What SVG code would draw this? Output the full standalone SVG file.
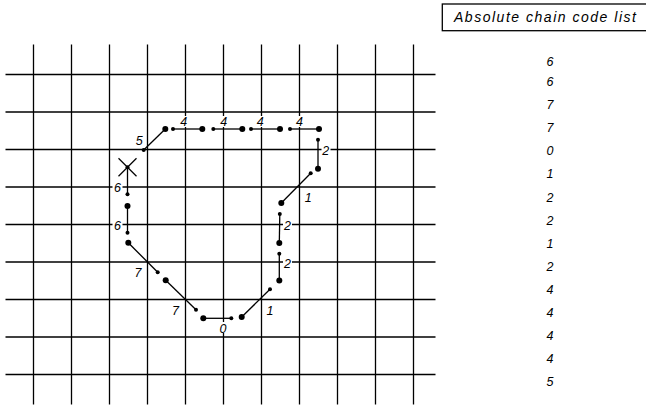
<svg xmlns="http://www.w3.org/2000/svg" width="646" height="406" viewBox="0 0 646 406">
<style>
.grid line{stroke:#000;stroke-width:1.3}
.seg{stroke:#000;stroke-width:1.3;fill:none}
.big{fill:#000}
.sm{fill:#000}
.lbl{font-family:"Liberation Sans",Arial,sans-serif;font-style:italic;font-size:12.5px;fill:#000;text-anchor:middle}
.list{font-family:"Liberation Sans",Arial,sans-serif;font-style:italic;font-size:12.5px;fill:#000;text-anchor:middle}
.title{font-family:"Liberation Sans",Arial,sans-serif;font-style:italic;font-size:14px;fill:#000}
</style>
<rect width="646" height="406" fill="#fff"/>
<g id="grid" class="grid">
<line x1="33.5" y1="44.5" x2="33.5" y2="404.5"/>
<line x1="71.5" y1="44.5" x2="71.5" y2="404.5"/>
<line x1="109.5" y1="44.5" x2="109.5" y2="404.5"/>
<line x1="147.5" y1="44.5" x2="147.5" y2="404.5"/>
<line x1="185.5" y1="44.5" x2="185.5" y2="404.5"/>
<line x1="223.5" y1="44.5" x2="223.5" y2="404.5"/>
<line x1="261.5" y1="44.5" x2="261.5" y2="404.5"/>
<line x1="299.5" y1="44.5" x2="299.5" y2="404.5"/>
<line x1="337.5" y1="44.5" x2="337.5" y2="404.5"/>
<line x1="375.5" y1="44.5" x2="375.5" y2="404.5"/>
<line x1="413.5" y1="44.5" x2="413.5" y2="404.5"/>
<line x1="5.5" y1="74.5" x2="435.5" y2="74.5"/>
<line x1="5.5" y1="112" x2="435.5" y2="112"/>
<line x1="5.5" y1="149.5" x2="435.5" y2="149.5"/>
<line x1="5.5" y1="187" x2="435.5" y2="187"/>
<line x1="5.5" y1="224.5" x2="435.5" y2="224.5"/>
<line x1="5.5" y1="262" x2="435.5" y2="262"/>
<line x1="5.5" y1="299.5" x2="435.5" y2="299.5"/>
<line x1="5.5" y1="337" x2="435.5" y2="337"/>
<line x1="5.5" y1="374.5" x2="435.5" y2="374.5"/>
</g>
<g id="start">
<line class="seg" x1="118.5" y1="158.3" x2="136.5" y2="176.3"/>
<line class="seg" x1="136.5" y1="158.3" x2="118.5" y2="176.3"/>
</g>
<g id="connectors">
<line class="seg" x1="127.5" y1="167.3" x2="127.5" y2="194.3"/>
<line class="seg" x1="127.5" y1="206" x2="127.5" y2="232.7"/>
<line class="seg" x1="128.3" y1="242.7" x2="157.7" y2="272.3"/>
<line class="seg" x1="165.7" y1="280.3" x2="196" y2="309.7"/>
<line class="seg" x1="203.3" y1="318.3" x2="231.3" y2="318.3"/>
<line class="seg" x1="241.7" y1="317" x2="270" y2="289.3"/>
<line class="seg" x1="279.3" y1="280.5" x2="279.3" y2="253.8"/>
<line class="seg" x1="279.3" y1="243" x2="279.8" y2="214"/>
<line class="seg" x1="281.3" y1="203" x2="310.7" y2="173.3"/>
<line class="seg" x1="318" y1="168.7" x2="318" y2="139.7"/>
<line class="seg" x1="319" y1="129" x2="290" y2="129"/>
<line class="seg" x1="280" y1="129" x2="251" y2="129"/>
<line class="seg" x1="242.3" y1="129" x2="213.3" y2="129"/>
<line class="seg" x1="202.3" y1="129" x2="173" y2="129"/>
<line class="seg" x1="165.3" y1="129" x2="143.7" y2="150"/>
</g>
<g id="dots">
<circle class="sm" cx="127.5" cy="167.3" r="2"/>
<circle class="sm" cx="127.5" cy="194.3" r="2"/>
<circle class="big" cx="127.5" cy="206" r="3"/>
<circle class="sm" cx="127.5" cy="232.7" r="2"/>
<circle class="big" cx="128.3" cy="242.7" r="3"/>
<circle class="sm" cx="157.7" cy="272.3" r="2"/>
<circle class="big" cx="165.7" cy="280.3" r="3"/>
<circle class="sm" cx="196" cy="309.7" r="2"/>
<circle class="big" cx="203.3" cy="318.3" r="3"/>
<circle class="sm" cx="231.3" cy="318.3" r="2"/>
<circle class="big" cx="241.7" cy="317" r="3"/>
<circle class="sm" cx="270" cy="289.3" r="2"/>
<circle class="big" cx="279.3" cy="280.5" r="3"/>
<circle class="sm" cx="279.3" cy="253.8" r="2"/>
<circle class="big" cx="279.3" cy="243" r="3"/>
<circle class="sm" cx="279.8" cy="214" r="2"/>
<circle class="big" cx="281.3" cy="203" r="3"/>
<circle class="sm" cx="310.7" cy="173.3" r="2"/>
<circle class="big" cx="318" cy="168.7" r="3"/>
<circle class="sm" cx="318" cy="139.7" r="2"/>
<circle class="big" cx="319" cy="129" r="3"/>
<circle class="sm" cx="290" cy="129" r="2"/>
<circle class="big" cx="280" cy="129" r="3"/>
<circle class="sm" cx="251" cy="129" r="2"/>
<circle class="big" cx="242.3" cy="129" r="3"/>
<circle class="sm" cx="213.3" cy="129" r="2"/>
<circle class="big" cx="202.3" cy="129" r="3"/>
<circle class="sm" cx="173" cy="129" r="2"/>
<circle class="big" cx="165.3" cy="129" r="3"/>
<circle class="sm" cx="143.7" cy="150" r="2"/>
</g>
<g id="labels">
<rect x="112.5" y="182" width="10" height="10" fill="#fff"/>
<text class="lbl" x="117.5" y="191.7">6</text>
<rect x="112.5" y="220.5" width="10" height="10" fill="#fff"/>
<text class="lbl" x="117.5" y="230">6</text>
<text class="lbl" x="138" y="277.3">7</text>
<text class="lbl" x="175.5" y="315">7</text>
<rect x="218" y="322" width="10" height="11" fill="#fff"/>
<text class="lbl" x="223" y="332.5">0</text>
<text class="lbl" x="270" y="315">1</text>
<rect x="283" y="258" width="9" height="11" fill="#fff"/>
<text class="lbl" x="287.5" y="268.3">2</text>
<rect x="283" y="220" width="9" height="11" fill="#fff"/>
<text class="lbl" x="287.5" y="230">2</text>
<text class="lbl" x="308.3" y="201.7">1</text>
<rect x="321.5" y="145" width="9" height="11" fill="#fff"/>
<text class="lbl" x="325.8" y="155">2</text>
<rect x="178.5" y="116" width="10" height="11" fill="#fff"/>
<text class="lbl" x="183.7" y="126">4</text>
<rect x="218.5" y="116" width="10" height="11" fill="#fff"/>
<text class="lbl" x="223.8" y="126">4</text>
<rect x="255.5" y="116" width="10" height="11" fill="#fff"/>
<text class="lbl" x="260.3" y="126">4</text>
<rect x="294.5" y="116" width="10" height="11" fill="#fff"/>
<text class="lbl" x="299.5" y="126">4</text>
<text class="lbl" x="139.2" y="145">5</text>
</g>
<g id="title">
<rect x="442.3" y="4" width="210" height="26.7" fill="#fff" stroke="#000" stroke-width="1.3"/>
<text class="title" x="454" y="22" textLength="182" lengthAdjust="spacing">Absolute chain code list</text>
</g>
<g id="list">
<text class="list" x="550" y="65.7">6</text>
<text class="list" x="550" y="86">6</text>
<text class="list" x="550" y="109.1">7</text>
<text class="list" x="550" y="132.2">7</text>
<text class="list" x="550" y="155.3">0</text>
<text class="list" x="550" y="178.4">1</text>
<text class="list" x="550" y="201.5">2</text>
<text class="list" x="550" y="224.6">2</text>
<text class="list" x="550" y="247.6">1</text>
<text class="list" x="550" y="270.7">2</text>
<text class="list" x="550" y="293.8">4</text>
<text class="list" x="550" y="316.9">4</text>
<text class="list" x="550" y="340">4</text>
<text class="list" x="550" y="363.1">4</text>
<text class="list" x="550" y="386">5</text>
</g>
</svg>
